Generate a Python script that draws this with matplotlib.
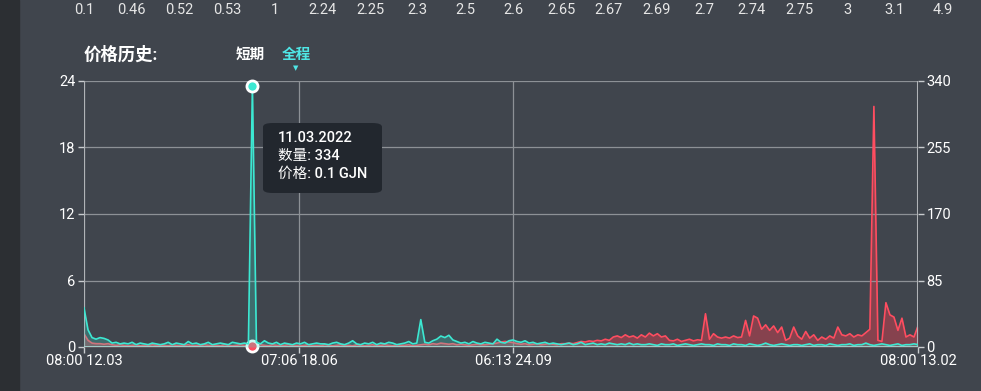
import numpy as np
import matplotlib.pyplot as plt
from matplotlib.patches import Rectangle, FancyBboxPatch

plt.rcParams['font.family'] = ['Roboto', 'Noto Sans CJK SC', 'DejaVu Sans']

# niveles de precio (fila superior)
niveles = ["0.1", "0.46", "0.52", "0.53", "1", "2.24", "2.25", "2.3", "2.5", "2.6",
           "2.65", "2.67", "2.69", "2.7", "2.74", "2.75", "3", "3.1", "4.9"]

# precio (eje izquierdo)
precio = [
    1.2, 0.6, 0.35, 0.3, 0.3, 0.25, 0.3, 0.2, 0.15, 0.2, 0.15, 0.1, 0.15, 0.2, 0.1, 0.15, 0.1, 0.2, 0.15, 0.1,
    0.15, 0.1, 0.2, 0.15, 0.1, 0.15, 0.2, 0.1, 0.15, 0.1, 0.2, 0.15, 0.1, 0.15, 0.1, 0.2, 0.15, 0.1, 0.15, 0.2,
    0.15, 0.1, 0.1, 0.15, 0.2, 0.15, 0.1, 0.2, 0.15, 0.1, 0.15, 0.2, 0.1, 0.15, 0.1, 0.15, 0.2, 0.1, 0.15, 0.1,
    0.2, 0.15, 0.1, 0.15, 0.2, 0.1, 0.15, 0.1, 0.2, 0.15, 0.1, 0.15, 0.2, 0.1, 0.15, 0.2, 0.15, 0.1, 0.2, 0.15,
    0.15, 0.2, 0.1, 0.15, 0.2, 0.25, 0.2, 0.3, 0.25, 0.35, 0.3, 0.25, 0.3, 0.2, 0.25, 0.2, 0.15, 0.2, 0.25, 0.2,
    0.2, 0.25, 0.3, 0.35, 0.45, 0.5, 0.45, 0.4, 0.3, 0.25, 0.3, 0.2, 0.25, 0.3, 0.2, 0.25, 0.3, 0.25, 0.2, 0.3,
    0.3, 0.35, 0.3, 0.4, 0.5, 0.45, 0.55, 0.5, 0.6, 0.55, 0.7, 0.6, 0.9, 1.0, 0.85, 1.1, 0.9, 1.0, 0.8, 1.1,
    0.9, 1.25, 1.0, 1.2, 0.9, 1.0, 0.6, 0.55, 0.7, 0.5, 0.6, 0.7, 0.55, 0.65, 0.6, 3.0, 0.7, 1.2, 0.9, 0.8,
    0.9, 0.8, 1.0, 0.85, 0.9, 2.4, 1.0, 2.8, 2.6, 1.6, 2.0, 1.5, 1.9, 1.3, 1.8, 0.6, 0.8, 1.8, 1.0, 0.7,
    1.4, 0.8, 1.1, 0.6, 0.9, 0.7, 1.0, 0.8, 1.8, 1.1, 1.0, 1.2, 0.9, 1.1, 1.0, 1.3, 1.6, 21.7, 0.6, 0.5,
    4.0, 2.9, 2.7, 1.5, 2.6, 0.9, 1.1, 0.9, 1.9,
]

# cantidad (eje derecho)
cantidad = [
    50, 22, 12, 10, 12, 11, 9, 5, 6, 4, 5, 4, 6, 3, 5, 4, 3, 5, 4, 3,
    4, 6, 3, 5, 4, 3, 7, 4, 5, 3, 4, 6, 3, 4, 5, 4, 3, 6, 5, 4,
    5, 4, 334, 6, 4, 8, 5, 4, 6, 3, 5, 4, 3, 5, 4, 6, 3, 4, 5, 4,
    4, 3, 5, 6, 4, 3, 5, 8, 4, 3, 5, 4, 6, 3, 5, 4, 6, 5, 3, 4,
    5, 7, 4, 5, 35, 6, 5, 8, 10, 14, 12, 15, 9, 7, 5, 6, 4, 7, 5, 4,
    6, 5, 4, 10, 6, 5, 8, 9, 7, 6, 8, 5, 6, 4, 5, 6, 4, 5, 4, 3,
    4, 5, 3, 4, 6, 3, 4, 5, 3, 4, 3, 5, 4, 3, 4, 3, 5, 3, 4, 3,
    3, 4, 3, 2, 4, 3, 3, 4, 2, 3, 4, 3, 2, 3, 4, 3, 3, 2, 4, 3,
    3, 2, 4, 3, 3, 2, 4, 3, 2, 3, 5, 3, 2, 3, 4, 3, 2, 3, 3, 2,
    3, 4, 2, 3, 3, 2, 4, 3, 2, 3, 3, 4, 2, 3, 3, 5, 3, 2, 3, 4,
    3, 2, 3, 4, 2, 3, 3, 4, 3,
]

etiquetas_x = ["08:00 12.03", "07:06 18.06", "06:13 24.09", "08:00 13.02"]
pos_x = [0, 53.6, 107.0, 208]

fondo = "#40454d"
rojo = "#ff4d60"
cian = "#3ce8d2"
gris = "#8d9196"

W, H = 981, 391
fig = plt.figure(figsize=(W / 100, H / 100), dpi=100, facecolor=fondo)
fig.patches.append(Rectangle((0, 0), 19 / W, 1, transform=fig.transFigure, color="#2c2f33", zorder=0))

ax = fig.add_axes([84 / W, (H - 347) / H, (918 - 84) / W, (347 - 81) / H])
ax.set_facecolor("none")
ax2 = ax.twinx()
ax2.set_facecolor("none")

x = np.arange(len(precio))

ax.fill_between(x, precio, color="#b5404f", alpha=0.6, lw=0)
ax.plot(x, precio, color=rojo, lw=1.2)
ax2.fill_between(x, cantidad, color=cian, alpha=0.25, lw=0)
ax2.plot(x, cantidad, color=cian, lw=1.2)

# punto seleccionado
i_sel = 42
ax2.plot(i_sel, cantidad[i_sel], "o", ms=8, mfc=cian, mec="white", mew=2, zorder=10, clip_on=False)
ax.plot(i_sel, precio[i_sel], "o", ms=8, mfc=rojo, mec="white", mew=2, zorder=10, clip_on=False)

ax.set_xlim(0, len(precio) - 1)
ax.set_ylim(0, 24)
ax2.set_ylim(0, 340)
ax.set_yticks([0, 6, 12, 18, 24])
ax2.set_yticks([0, 85, 170, 255, 340])
ax.set_xticks(pos_x)
ax.set_xticklabels(etiquetas_x)

ax.grid(True, color=gris, lw=0.9)
for a in (ax, ax2):
    for s in a.spines.values():
        s.set_visible(False)
    a.tick_params(colors="white", labelsize=10.5, length=4, width=1, pad=2)
    a.tick_params(axis="y", color="#c9cccf")
ax.tick_params(axis="x", color="#c9cccf", pad=1)
ax.axvline(0, color="#b0b3b7", lw=1.5)
ax.axvline(len(precio) - 1, color="#b0b3b7", lw=1.5)
ax.axhline(0, color="#c9cccf", lw=1.3)
for lab in ax.get_xticklabels():
    lab.set_color("white")

# fila de niveles arriba
for k, t in enumerate(niveles):
    fig.text((84 + k * 47.7) / W, 1 - 10 / H, t, color="#e6e6e6", fontsize=10.5, ha="center", va="center")

# titulo y pestañas
fig.text(84 / W, 1 - 54 / H, "价格历史:", color="white", fontsize=12.5, fontweight="bold", va="center")
fig.text(250 / W, 1 - 55 / H, "短期", color="white", fontsize=10.5, fontweight="bold", ha="center", va="center")
fig.text(296 / W, 1 - 55 / H, "全程", color="#4fe6e6", fontsize=10.5, fontweight="bold", ha="center", va="center")
fig.text(296 / W, 1 - 68 / H, "▼", color="#4fe6e6", fontsize=5, ha="center", va="center",
         family=["DejaVu Sans"])

# tooltip
caja = FancyBboxPatch((263 / W, 1 - 193 / H), 119 / W, 70 / H, transform=fig.transFigure,
                      boxstyle="round,pad=0,rounding_size=0.01", fc="#22272e", ec="none", zorder=20)
fig.patches.append(caja)
lineas = ["11.03.2022", "数量: 334", "价格: 0.1 GJN"]
for k, t in enumerate(lineas):
    fig.text(278 / W, 1 - (138 + k * 18) / H, t, color="white", fontsize=10.5, fontweight="medium",
             va="center", zorder=21)

fig.savefig("out.png", dpi=100, facecolor=fondo)
